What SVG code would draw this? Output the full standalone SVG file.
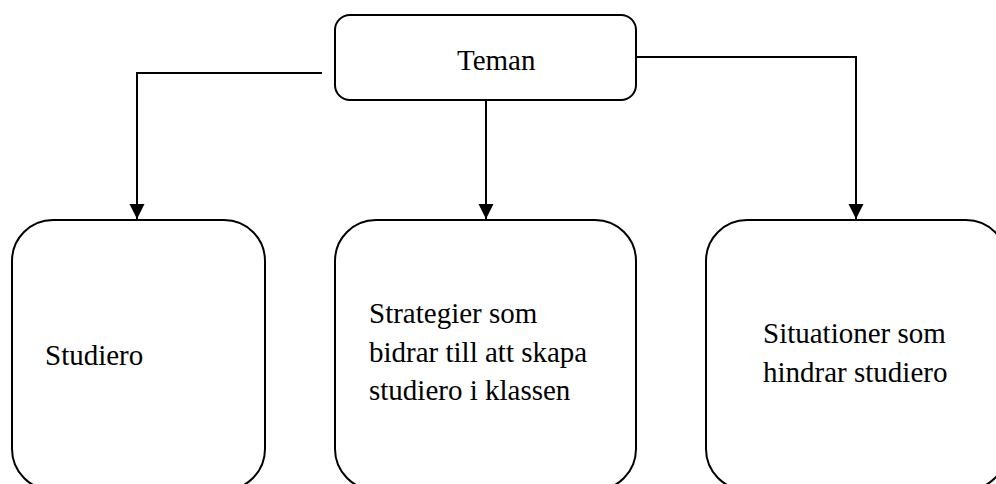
<svg xmlns="http://www.w3.org/2000/svg" width="996" height="484" viewBox="0 0 996 484">
<defs>
<marker id="arr" markerWidth="16" markerHeight="16" refX="15" refY="7.5" orient="auto" markerUnits="userSpaceOnUse">
<path d="M0,0 L15,7.5 L0,15 Z" fill="#000"/>
</marker>
<style>
.box{fill:#fff;stroke:#000;stroke-width:2}
.lbl{font-family:"Liberation Serif","Times New Roman",serif;font-size:29px;fill:#000}
.con{fill:none;stroke:#000;stroke-width:2}
</style>
</defs>
<rect width="996" height="484" fill="#fff"/>
<g id="connectors">
<path class="con" d="M322,73 H137 V219" marker-end="url(#arr)"/>
<path class="con" d="M486,100 V219" marker-end="url(#arr)"/>
<path class="con" d="M636,57 H856 V219" marker-end="url(#arr)"/>
</g>
<g id="teman">
<rect class="box" x="335" y="15" width="301" height="85" rx="15" ry="15"/>
<text class="lbl" x="457" y="70">Teman</text>
</g>
<g id="studiero">
<rect class="box" x="12" y="220" width="253" height="270" rx="41" ry="41"/>
<text class="lbl" x="45" y="365">Studiero</text>
</g>
<g id="strategier">
<rect class="box" x="335" y="220" width="301" height="270" rx="41" ry="41"/>
<text class="lbl" x="369" y="323">Strategier som</text>
<text class="lbl" x="369" y="362">bidrar till att skapa</text>
<text class="lbl" x="369" y="400">studiero i klassen</text>
</g>
<g id="situationer">
<rect class="box" x="706" y="220" width="301" height="270" rx="41" ry="41"/>
<text class="lbl" x="763" y="343">Situationer som</text>
<text class="lbl" x="763" y="382">hindrar studiero</text>
</g>
</svg>
